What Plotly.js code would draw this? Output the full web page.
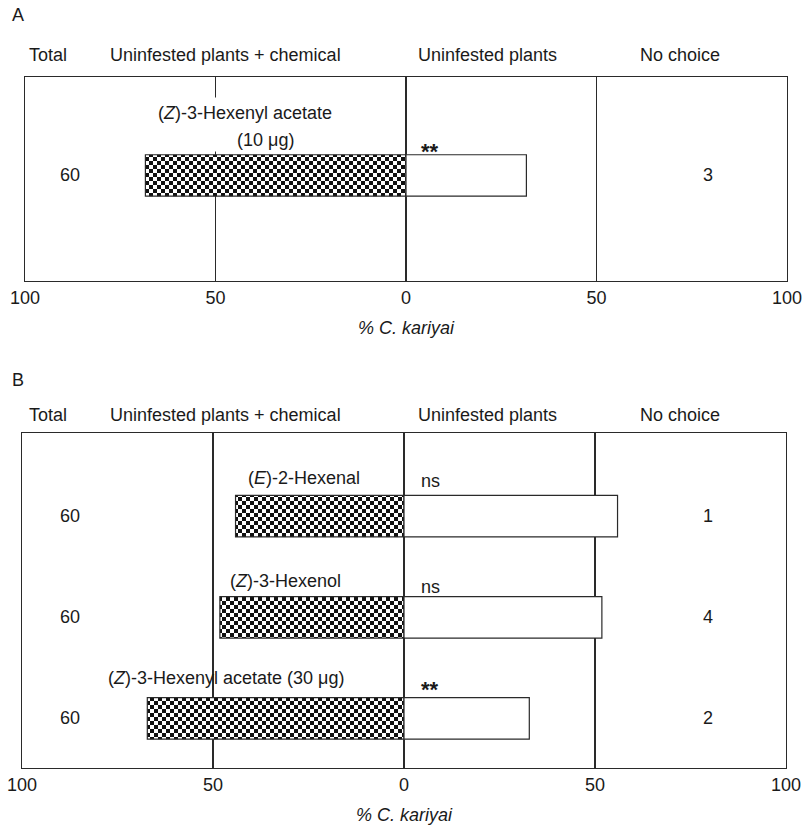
<!DOCTYPE html>
<html>
<head>
<meta charset="utf-8">
<script src="https://cdn.plot.ly/plotly-3.0.1.min.js"></script>
<style>html,body{margin:0;padding:0;background:#fff}#chart{width:803px;height:826px}</style>
</head>
<body>
<div id="chart"></div>
<script>
// ---- data ----
const headerLabels = ["Total", "Uninfested plants + chemical", "Uninfested plants", "No choice"];
const tickVals = [-100, -50, 0, 50, 100];
const tickText = ["100", "50", "0", "50", "100"];
const axisTitle = "<i>% C. kariyai</i>";

const aCompounds = ["(<i>Z</i>)-3-Hexenyl acetate"];
const aDose = ["(10 μg)"];
const aChemicalPct = [68.4];
const aControlPct = [31.6];
const aTotal = [60];
const aNoChoice = [3];
const aSignif = ["**"];

const bCompounds = ["(<i>E</i>)-2-Hexenal", "(<i>Z</i>)-3-Hexenol", "(<i>Z</i>)-3-Hexenyl acetate (30 μg)"];
const bChemicalPct = [44.1, 48.2, 67.2];
const bControlPct = [55.9, 51.8, 32.8];
const bTotal = [60, 60, 60];
const bNoChoice = [1, 4, 2];
const bSignif = ["ns", "ns", "**"];

// ---- helpers ----
const W = 803, H = 826;
const px = x => x / W;
const py = y => 1 - y / H;
const FONT = "Liberation Sans, Arial, sans-serif";
const FS = 18;
const TXT = "#1a1a1a";
const LINE = "#2a2a2a";

function ann(text, x, y, size, extra) {
  return Object.assign({
    text: text, xref: "paper", yref: "paper", x: px(x), y: py(y),
    xanchor: "center", yanchor: "middle", showarrow: false,
    font: {family: FONT, size: size || FS, color: TXT}
  }, extra || {});
}
function rowAnn(text, x, yref, yv) {
  return {text: String(text), xref: "paper", yref: yref, x: px(x), y: yv, showarrow: false,
          xanchor: "center", yanchor: "middle", font: {family: FONT, size: FS, color: TXT}};
}

const checker = {shape: ".", fgcolor: "#111", bgcolor: "#fff", size: 8, solidity: 0.5};

const aIdx = aCompounds.map((_, i) => i);
const bIdx = bCompounds.map((_, i) => i);

function barTrace(xa, ya, yv, xv, patterned) {
  const m = {color: "#fff", line: {color: LINE, width: 1.2}};
  if (patterned) m.pattern = checker;
  return {type: "bar", orientation: "h", xaxis: xa, yaxis: ya, y: yv, x: xv, width: 0.41,
          marker: m, hoverinfo: "skip", showlegend: false};
}

const data = [
  barTrace("x", "y", aIdx, aChemicalPct.map(v => -v), true),
  barTrace("x", "y", aIdx, aControlPct, false),
  barTrace("x2", "y2", bIdx, bChemicalPct.map(v => -v), true),
  barTrace("x2", "y2", bIdx, bControlPct, false)
];

function xax(domain) {
  return {
    domain: domain, range: [-100, 100], tickvals: tickVals, ticktext: tickText,
    showgrid: true, gridcolor: LINE, gridwidth: 1.1, zeroline: false,
    showline: true, mirror: true, linecolor: LINE, linewidth: 1.3,
    ticks: "", ticklen: 0, ticklabeloverflow: "allow",
    tickfont: {family: FONT, size: FS, color: TXT}, fixedrange: true
  };
}
function yax(domain, range) {
  return {
    domain: domain, range: range, showticklabels: false, showgrid: false,
    zeroline: false, showline: true, mirror: true, linecolor: LINE, linewidth: 1.3,
    ticks: "", fixedrange: true
  };
}

const layout = {
  width: W, height: H, margin: {l: 0, r: 0, t: 0, b: 0},
  paper_bgcolor: "#fff", plot_bgcolor: "rgba(0,0,0,0)",
  barmode: "overlay", bargap: 0,
  font: {family: FONT, color: TXT},
  xaxis: Object.assign(xax([px(25), px(787)]), {anchor: "y"}),
  yaxis: Object.assign(yax([py(281), py(77)], [-1.045, 0.975]), {anchor: "x"}),
  xaxis2: Object.assign(xax([px(22), px(786)]), {anchor: "y2"}),
  yaxis2: Object.assign(yax([py(768), py(433)], [2.49, -0.822]), {anchor: "x2"}),
  annotations: []
};

const A = layout.annotations;
// panel letters
A.push(ann("A", 10, 15, FS, {xanchor: "left"}));
A.push(ann("B", 10, 380, FS, {xanchor: "left"}));
// headers
const headerX = [48, 225, 487, 680];
[55, 415].forEach(yy => headerLabels.forEach((t, i) => A.push(ann(t, headerX[i], yy))));
// axis titles
A.push(ann(axisTitle, 406, 328));
A.push(ann(axisTitle, 404, 815));

// panel A labels
A.push(ann(aCompounds[0] + "<br> ", 245, 124, FS, {bgcolor: "#fff", borderpad: 5}));
A.push(ann(aDose[0], 265, 140));
A.push(ann("<b>" + aSignif[0] + "</b>", 430, 151, 22));
aIdx.forEach(i => {
  A.push(rowAnn(aTotal[i], 70, "y", i));
  A.push(rowAnn(aNoChoice[i], 708, "y", i));
});

// panel B labels
const bLabelX = [304, 285, 226];
const bLabelY = [478, 581, 678];
const bSigY = [481, 587, 689];
bIdx.forEach(i => {
  A.push(ann(bCompounds[i], bLabelX[i], bLabelY[i]));
  const sig = bSignif[i] === "**";
  A.push(ann(sig ? "<b>**</b>" : bSignif[i], 430, bSigY[i], sig ? 22 : FS));
  A.push(rowAnn(bTotal[i], 70, "y2", i));
  A.push(rowAnn(bNoChoice[i], 708, "y2", i));
});

const SVGNS = "http://www.w3.org/2000/svg";
Plotly.newPlot("chart", data, layout, {staticPlot: true, displayModeBar: false}).then(gd => {
  // redraw each pattern tile as a checkerboard tile
  gd.querySelectorAll("pattern").forEach(p => {
    const s = parseFloat(p.getAttribute("width")) || checker.size;
    const h = s / 2;
    while (p.firstChild) p.removeChild(p.firstChild);
    const bg = document.createElementNS(SVGNS, "rect");
    bg.setAttribute("x", 0); bg.setAttribute("y", 0);
    bg.setAttribute("width", s); bg.setAttribute("height", s);
    bg.setAttribute("fill", checker.bgcolor);
    p.appendChild(bg);
    const path = document.createElementNS(SVGNS, "path");
    path.setAttribute("d", `M0,0H${h}V${h}H0Z M${h},${h}H${s}V${s}H${h}Z`);
    path.setAttribute("fill", checker.fgcolor);
    p.appendChild(path);
  });
});
</script>
</body>
</html>
